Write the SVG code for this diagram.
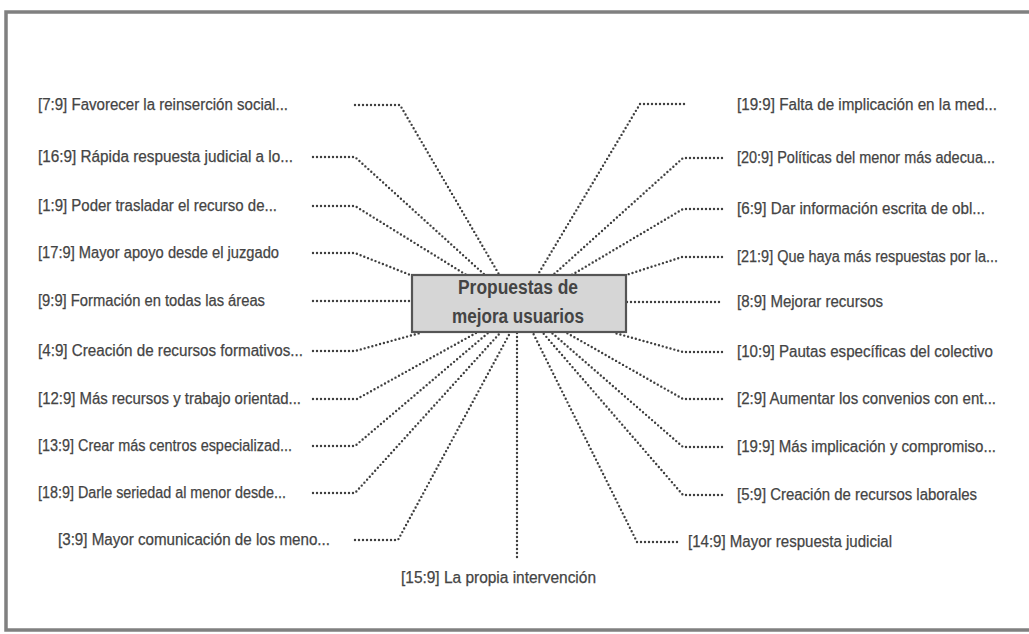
<svg xmlns="http://www.w3.org/2000/svg" width="1029" height="634" viewBox="0 0 1029 634">
<style>
.frame{fill:#ffffff;stroke:#808080;stroke-width:3.5}
.con{fill:none;stroke:#3f3f3f;stroke-width:2.4;stroke-dasharray:0 4;stroke-linecap:round;stroke-linejoin:round}
.lbl{font-family:"Liberation Sans Narrow","Liberation Sans",Arial,sans-serif;font-size:16px;fill:#444444;stroke:#444444;stroke-width:0.25}
.hub{fill:#d6d6d6;stroke:#555555;stroke-width:2.2}
.hubt{font-family:"Liberation Sans Narrow","Liberation Sans",Arial,sans-serif;font-size:20px;font-weight:bold;fill:#444444;text-anchor:middle}
</style>
<rect width="1029" height="634" fill="#ffffff"/>
<rect class="frame" x="6" y="12" width="1030" height="618"/>
<g id="connectors">
<path class="con" d="M355 105 H400 L500 276"/>
<path class="con" d="M313 157 H355 L486 276"/>
<path class="con" d="M313 206 H355 L468 276"/>
<path class="con" d="M313 253 H355 L413 276"/>
<path class="con" d="M313 301 H412"/>
<path class="con" d="M313 351 H355 L420 333"/>
<path class="con" d="M313 399 H357 L476 333"/>
<path class="con" d="M313 446 H355 L488 333"/>
<path class="con" d="M313 493 H355 L500 333"/>
<path class="con" d="M355 540 H398 L510 333"/>
<path class="con" d="M517 333 V560"/>
<path class="con" d="M677 542 H637 L533 333"/>
<path class="con" d="M722 495 H683 L543 333"/>
<path class="con" d="M722 447 H683 L552 333"/>
<path class="con" d="M722 399 H683 L567 333"/>
<path class="con" d="M722 352 H683 L615 333"/>
<path class="con" d="M627 302 H722"/>
<path class="con" d="M722 257 H682 L623 276"/>
<path class="con" d="M722 209 H683 L570 276"/>
<path class="con" d="M722 158 H683 L552 276"/>
<path class="con" d="M684 104 H640 L537 276"/>
</g>
<g id="hub">
<rect class="hub" x="412" y="275" width="214" height="57"/>
<text class="hubt" x="518" y="294" textLength="120" lengthAdjust="spacingAndGlyphs">Propuestas de</text>
<text class="hubt" x="518" y="323" textLength="132" lengthAdjust="spacingAndGlyphs">mejora usuarios</text>
</g>
<g id="n7"><text class="lbl" x="38" y="110" textLength="250" lengthAdjust="spacingAndGlyphs">[7:9] Favorecer la reinserción social...</text></g>
<g id="n16"><text class="lbl" x="38" y="162" textLength="255" lengthAdjust="spacingAndGlyphs">[16:9] Rápida respuesta judicial a lo...</text></g>
<g id="n1"><text class="lbl" x="38" y="211" textLength="239" lengthAdjust="spacingAndGlyphs">[1:9] Poder trasladar el recurso de...</text></g>
<g id="n17"><text class="lbl" x="38" y="258" textLength="241" lengthAdjust="spacingAndGlyphs">[17:9] Mayor apoyo desde el juzgado</text></g>
<g id="n9"><text class="lbl" x="38" y="306" textLength="227" lengthAdjust="spacingAndGlyphs">[9:9] Formación en todas las áreas</text></g>
<g id="n4"><text class="lbl" x="38" y="356" textLength="265" lengthAdjust="spacingAndGlyphs">[4:9] Creación de recursos formativos...</text></g>
<g id="n12"><text class="lbl" x="38" y="404" textLength="263" lengthAdjust="spacingAndGlyphs">[12:9] Más recursos y trabajo orientad...</text></g>
<g id="n13"><text class="lbl" x="38" y="451" textLength="254" lengthAdjust="spacingAndGlyphs">[13:9] Crear más centros especializad...</text></g>
<g id="n18"><text class="lbl" x="38" y="498" textLength="248" lengthAdjust="spacingAndGlyphs">[18:9] Darle seriedad al menor desde...</text></g>
<g id="n3"><text class="lbl" x="58" y="545" textLength="272" lengthAdjust="spacingAndGlyphs">[3:9] Mayor comunicación de los meno...</text></g>
<g id="n15"><text class="lbl" x="401" y="583" textLength="195" lengthAdjust="spacingAndGlyphs">[15:9] La propia intervención</text></g>
<g id="n14"><text class="lbl" x="688" y="547" textLength="204" lengthAdjust="spacingAndGlyphs">[14:9] Mayor respuesta judicial</text></g>
<g id="n5"><text class="lbl" x="737" y="500" textLength="240" lengthAdjust="spacingAndGlyphs">[5:9] Creación de recursos laborales</text></g>
<g id="n19b"><text class="lbl" x="737" y="452" textLength="259" lengthAdjust="spacingAndGlyphs">[19:9] Más implicación y compromiso...</text></g>
<g id="n2"><text class="lbl" x="737" y="404" textLength="259" lengthAdjust="spacingAndGlyphs">[2:9] Aumentar los convenios con ent...</text></g>
<g id="n10"><text class="lbl" x="737" y="357" textLength="256" lengthAdjust="spacingAndGlyphs">[10:9] Pautas específicas del colectivo</text></g>
<g id="n8"><text class="lbl" x="737" y="307" textLength="146" lengthAdjust="spacingAndGlyphs">[8:9] Mejorar recursos</text></g>
<g id="n21"><text class="lbl" x="737" y="262" textLength="261" lengthAdjust="spacingAndGlyphs">[21:9] Que haya más respuestas por la...</text></g>
<g id="n6"><text class="lbl" x="737" y="214" textLength="248" lengthAdjust="spacingAndGlyphs">[6:9] Dar información escrita de obl...</text></g>
<g id="n20"><text class="lbl" x="737" y="163" textLength="258" lengthAdjust="spacingAndGlyphs">[20:9] Políticas del menor más adecua...</text></g>
<g id="n19a"><text class="lbl" x="737" y="110" textLength="260" lengthAdjust="spacingAndGlyphs">[19:9] Falta de implicación en la med...</text></g>
</svg>
